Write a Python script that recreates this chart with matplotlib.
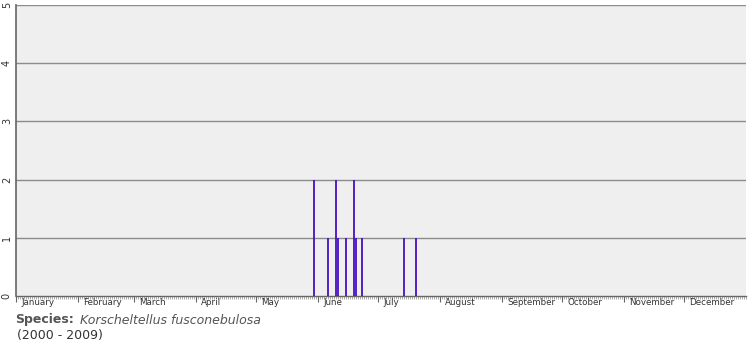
import numpy as np
import matplotlib
matplotlib.use("Agg")
import matplotlib.pyplot as plt
import matplotlib.transforms as mtransforms

# Dane: dzien roku (0 = 1 stycznia) i liczba obserwacji
days = [149, 156, 160, 161, 165, 169, 170, 173, 194, 200]
counts = [2, 1, 2, 1, 1, 2, 1, 1, 1, 1]

months = ["January", "February", "March", "April", "May", "June",
          "July", "August", "September", "October", "November", "December"]
month_len = [31, 28, 31, 30, 31, 30, 31, 31, 30, 31, 30, 31]
month_start = np.concatenate([[0], np.cumsum(month_len)[:-1]])

species = "Korscheltellus fusconebulosa"
years = "(2000 - 2009)"

W, H = 755, 350
fig = plt.figure(figsize=(W / 100, H / 100), dpi=100)
ax = fig.add_axes([16 / W, (H - 296) / H, 730 / W, 291 / H])
ax.set_facecolor("#efefef")

ax.set_xlim(0, 365)
ax.set_ylim(0, 5)

# Siatka pozioma
for yv in range(1, 6):
    ax.axhline(yv, color="#8c8c8c", lw=1, zorder=1)

# Slupki jako pionowe linie
ax.vlines(days, 0, counts, color="#4710c0", lw=1.3, zorder=3)

for s in ["top", "right"]:
    ax.spines[s].set_visible(False)
ax.spines["left"].set_color("#666666")
ax.spines["bottom"].set_color("#666666")
ax.spines["left"].set_linewidth(1.2)
ax.spines["bottom"].set_linewidth(1.0)

# Os X: dlugie kreski na poczatku miesiecy, krotkie co dzien
ax.set_xticks(month_start)
ax.set_xticklabels([])
ax.set_xticks(np.arange(0, 366, 1), minor=True)
ax.tick_params(axis="x", which="major", length=4, width=0.8, color="#666666")
ax.tick_params(axis="x", which="minor", length=2, width=0.5, color="#888888")

offset = mtransforms.ScaledTranslation(5 / 100, -2 / 100, fig.dpi_scale_trans)
for m, x0 in zip(months, month_start):
    ax.text(x0, 0, m, transform=ax.get_xaxis_transform() + offset,
            ha="left", va="top", fontsize=6.3, color="#333333")

# Os Y: etykiety obrocone
ax.set_yticks(range(0, 6))
ax.set_yticklabels([str(v) for v in range(0, 6)], rotation=90,
                   va="center", fontsize=7, color="#333333")
ax.tick_params(axis="y", length=0, pad=3)

fig.text(15 / W, 1 - 320 / H, "Species:", fontsize=9, fontweight="bold",
         color="#555555", va="center", ha="left")
fig.text(80 / W, 1 - 320 / H, species, fontsize=9, style="italic",
         color="#555555", va="center", ha="left")
fig.text(17 / W, 1 - 336 / H, years, fontsize=9, color="#333333",
         va="center", ha="left")

fig.savefig("out.png", dpi=100)
